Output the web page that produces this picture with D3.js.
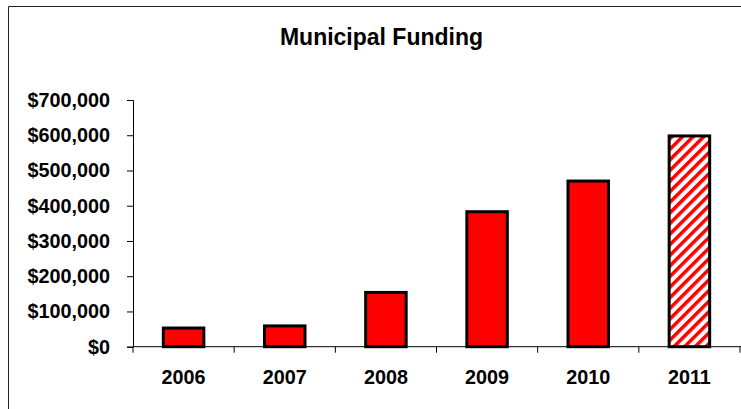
<!DOCTYPE html>
<html>
<head>
<meta charset="utf-8">
<script src="https://cdn.jsdelivr.net/npm/d3@7"></script>
<style>
html,body{margin:0;padding:0;background:#fff;}
svg{display:block;font-family:"Liberation Sans",Arial,sans-serif;}
</style>
</head>
<body>
<svg id="chart" width="741" height="409"></svg>
<script>
const years = ["2006","2007","2008","2009","2010","2011"];
const funding = [53000, 59000, 154000, 383000, 470000, 598000];
const projected = [false, false, false, false, false, true];
const yTicks = [0, 100000, 200000, 300000, 400000, 500000, 600000, 700000];
const chartTitle = "Municipal Funding";

(function(){
const svg = d3.select("#chart");
const W = 741, H = 409;
const mLeft = 133, mRight = 740, mTop = 100, mBottom = 346.7;

// frame
svg.append("path").attr("d", `M8.5,${H} V6.5 H${W}`).attr("fill","none").attr("stroke","#222").attr("stroke-width",1);

// hatch pattern
const defs = svg.append("defs");
const pat = defs.append("pattern").attr("id","hatch").attr("patternUnits","userSpaceOnUse")
  .attr("width",7.5).attr("height",8).attr("patternTransform","rotate(45)");
pat.append("rect").attr("width",7.5).attr("height",8).attr("fill","#fff");
pat.append("rect").attr("x",0).attr("width",3.5).attr("height",8).attr("fill","#ff0000");

const x = d3.scaleBand().domain(years).range([mLeft, mRight]).paddingInner(0.57).paddingOuter(0.285);
const y = d3.scaleLinear().domain([0, 700000]).range([mBottom, mTop]);

svg.append("text").attr("x", 381.5).attr("y", 45).attr("text-anchor","middle")
  .attr("font-size", 23).attr("font-weight","bold").attr("fill","#000").text(chartTitle);

// bars
const data = years.map((yr,i)=>({yr, v:funding[i], p:projected[i]}));
svg.append("g").selectAll("rect").data(data).join("rect")
  .attr("x", d => x(d.yr) + 1.5)
  .attr("width", x.bandwidth() - 3)
  .attr("y", d => y(d.v))
  .attr("height", d => y(0) - y(d.v))
  .attr("fill", d => d.p ? "url(#hatch)" : "#ff0000")
  .attr("stroke", "#000").attr("stroke-width", 3);

// y axis
const yAxis = d3.axisLeft(y).tickValues(yTicks).tickSize(6).tickPadding(17)
  .tickFormat(d => "$" + d3.format(",")(d));
const gy = svg.append("g").attr("transform", `translate(${mLeft},0)`).call(yAxis);
gy.select(".domain").attr("stroke","#000");
gy.selectAll(".tick line").attr("stroke","#000");
gy.selectAll("text").attr("font-size", 19.8).attr("font-weight","bold").attr("fill","#000")
  .attr("font-family","Liberation Sans, Arial, sans-serif");

// x axis with ticks at band boundaries
const xAxisG = svg.append("g").attr("transform", `translate(0,${mBottom})`);
xAxisG.append("line").attr("x1", mLeft).attr("x2", W).attr("y1",0).attr("y2",0).attr("stroke","#000");
const step = x.step();
const bounds = d3.range(years.length + 1).map(i => mLeft + i * step);
xAxisG.selectAll("line.t").data(bounds).join("line").attr("class","t")
  .attr("x1", d => d).attr("x2", d => d).attr("y1", 0).attr("y2", 6).attr("stroke","#000");
xAxisG.selectAll("text").data(years).join("text")
  .attr("x", d => x(d) + x.bandwidth()/2).attr("y", 37.5)
  .attr("text-anchor","middle").attr("font-size", 19.8).attr("font-weight","bold").attr("fill","#000")
  .text(d => d);
})();
</script>
</body>
</html>
